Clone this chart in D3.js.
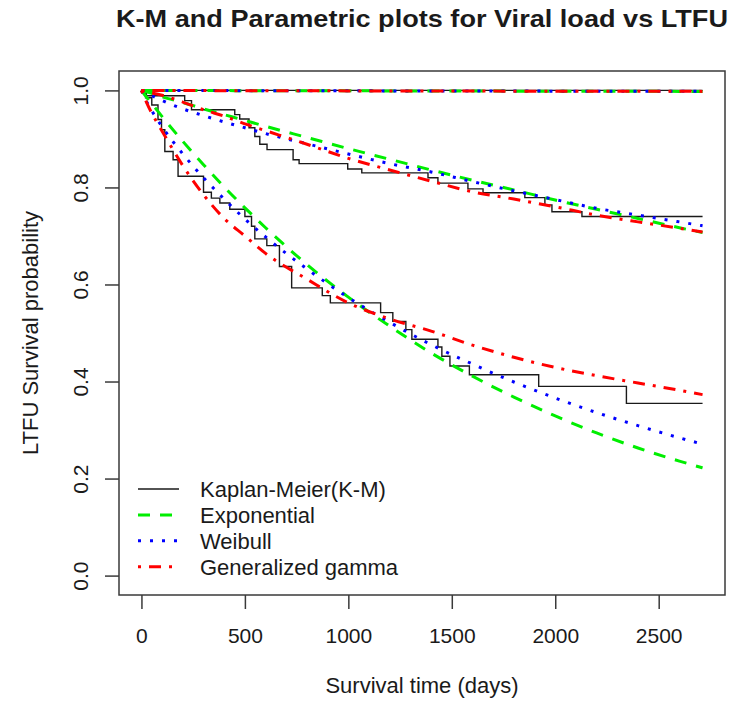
<!DOCTYPE html>
<html>
<head>
<meta charset="utf-8">
<script src="https://cdn.jsdelivr.net/npm/d3@7"></script>
<style>
  body { margin: 0; background: #fff; }
  text { font-family: "Liberation Sans", Arial, sans-serif; fill: #1a1a1a; }
</style>
</head>
<body>
<svg id="chart" width="745" height="708"></svg>
<script>
// tick labels
var xTicks = [0, 500, 1000, 1500, 2000, 2500];
var yTicks = [0, 0.2, 0.4, 0.6, 0.8, 1.0];

// Kaplan-Meier step curves (time in days, survival)
var kmTopTime = [0, 2712];
var kmTopSurv = [1, 1];
var kmMidTime = [0, 24, 209, 242, 451, 475, 520, 548, 572, 607, 733, 762, 997, 1065, 1385, 1433, 1578, 1651, 1853, 1950, 1984, 2129, 2712];
var kmMidSurv = [1, 0.989, 0.979, 0.96, 0.95, 0.941, 0.923, 0.905, 0.889, 0.878, 0.857, 0.849, 0.838, 0.83, 0.82, 0.809, 0.797, 0.789, 0.779, 0.764, 0.75, 0.74, 0.74];
var kmLowTime = [0, 20, 50, 80, 97, 113, 153, 177, 300, 338, 379, 427, 500, 532, 548, 606, 667, 726, 874, 913, 1156, 1215, 1278, 1307, 1433, 1452, 1491, 1585, 1920, 2344, 2712];
var kmLowSurv = [1, 0.985, 0.97, 0.94, 0.919, 0.874, 0.857, 0.823, 0.79, 0.778, 0.768, 0.755, 0.74, 0.72, 0.694, 0.68, 0.637, 0.593, 0.577, 0.562, 0.542, 0.524, 0.507, 0.487, 0.471, 0.452, 0.432, 0.414, 0.39, 0.355, 0.355];

// parametric fits, read at these times
var fitTime = [0, 25, 50, 100, 200, 300, 400, 500, 600, 800, 1000, 1200, 1400, 1600, 1800, 2000, 2200, 2400, 2600, 2712];
var expTop = [1, 1, 1, 0.9999, 0.9998, 0.9997, 0.9996, 0.9995, 0.9994, 0.9993, 0.9991, 0.999, 0.9988, 0.9987, 0.9985, 0.9984, 0.9982, 0.9981, 0.998, 0.9979];
var weiTop = [1, 1, 0.9999, 0.9999, 0.9998, 0.9997, 0.9996, 0.9995, 0.9994, 0.9993, 0.9992, 0.999, 0.9989, 0.9988, 0.9986, 0.9985, 0.9984, 0.9983, 0.9982, 0.9981];
var ggTop = [1, 1, 0.9999, 0.9998, 0.9997, 0.9996, 0.9995, 0.9994, 0.9993, 0.9992, 0.999, 0.9989, 0.9988, 0.9986, 0.9985, 0.9984, 0.9983, 0.9982, 0.9981, 0.998];
var expMid = [1, 0.997, 0.994, 0.987, 0.975, 0.962, 0.95, 0.938, 0.926, 0.903, 0.88, 0.858, 0.836, 0.815, 0.795, 0.774, 0.755, 0.736, 0.717, 0.707];
var weiMid = [1, 0.994, 0.989, 0.979, 0.962, 0.948, 0.935, 0.923, 0.911, 0.89, 0.869, 0.849, 0.832, 0.812, 0.793, 0.775, 0.757, 0.743, 0.729, 0.721];
var ggMid = [1, 0.998, 0.995, 0.99, 0.976, 0.96, 0.947, 0.931, 0.917, 0.889, 0.86, 0.836, 0.813, 0.791, 0.776, 0.76, 0.743, 0.729, 0.716, 0.708];
var expLow = [1, 0.986, 0.973, 0.946, 0.895, 0.847, 0.801, 0.758, 0.717, 0.641, 0.574, 0.514, 0.459, 0.411, 0.368, 0.329, 0.294, 0.263, 0.236, 0.222];
var weiLow = [1, 0.977, 0.958, 0.925, 0.869, 0.82, 0.776, 0.735, 0.698, 0.632, 0.573, 0.522, 0.476, 0.436, 0.399, 0.366, 0.336, 0.309, 0.284, 0.271];
var ggLow = [1, 0.975, 0.953, 0.916, 0.845, 0.785, 0.736, 0.7, 0.664, 0.611, 0.562, 0.529, 0.504, 0.475, 0.45, 0.429, 0.412, 0.397, 0.382, 0.373];

var legendLabels = ["Kaplan-Meier(K-M)", "Exponential", "Weibull", "Generalized gamma"];
var lineColors = ["#1a1a1a", "#00ee00", "#0000ff", "#ff0000"];
var lineDashes = [null, "12,10", "3,9", "3,8,12,8"];
var lineWidths = [1.4, 3, 3, 3];

var svg = d3.select("#chart");
var plotLeft = 119, plotRight = 725, plotTop = 71, plotBottom = 595;

// R style: axis range padded 4% each side
var xr = 2712 * 0.04;
var x = d3.scaleLinear().domain([-xr, 2712 + xr]).range([plotLeft, plotRight]);
var y = d3.scaleLinear().domain([-0.04, 1.04]).range([plotBottom, plotTop]);

function pairs(t, s) {
    return t.map(function(d, i) { return [d, s[i]]; });
}

var stepLine = d3.line()
    .x(function(d) { return x(d[0]); })
    .y(function(d) { return y(d[1]); })
    .curve(d3.curveStepAfter);
var smoothLine = d3.line()
    .x(function(d) { return x(d[0]); })
    .y(function(d) { return y(d[1]); })
    .curve(d3.curveMonotoneX);

var curves = [
    {kind: 0, pts: pairs(kmTopTime, kmTopSurv)},
    {kind: 0, pts: pairs(kmMidTime, kmMidSurv)},
    {kind: 0, pts: pairs(kmLowTime, kmLowSurv)},
    {kind: 1, pts: pairs(fitTime, expTop)},
    {kind: 1, pts: pairs(fitTime, expMid)},
    {kind: 1, pts: pairs(fitTime, expLow)},
    {kind: 2, pts: pairs(fitTime, weiTop)},
    {kind: 2, pts: pairs(fitTime, weiMid)},
    {kind: 2, pts: pairs(fitTime, weiLow)},
    {kind: 3, pts: pairs(fitTime, ggTop)},
    {kind: 3, pts: pairs(fitTime, ggMid)},
    {kind: 3, pts: pairs(fitTime, ggLow)}
];

svg.selectAll("path.curve")
    .data(curves)
    .enter()
    .append("path")
    .attr("class", "curve")
    .attr("d", function(d) { return d.kind == 0 ? stepLine(d.pts) : smoothLine(d.pts); })
    .attr("fill", "none")
    .attr("stroke", function(d) { return lineColors[d.kind]; })
    .attr("stroke-width", function(d) { return lineWidths[d.kind]; })
    .attr("stroke-dasharray", function(d) { return lineDashes[d.kind]; });

// box
svg.append("rect")
    .attr("x", plotLeft).attr("y", plotTop)
    .attr("width", plotRight - plotLeft).attr("height", plotBottom - plotTop)
    .attr("fill", "none")
    .attr("stroke", "#3a3a3a")
    .attr("stroke-width", 1.5);

// x axis
var xAxis = svg.append("g")
    .attr("transform", "translate(0," + plotBottom + ")")
    .call(d3.axisBottom(x).tickValues(xTicks).tickSize(14).tickFormat(d3.format("d")));
xAxis.select(".domain").remove();
xAxis.selectAll("line").attr("stroke", "#3a3a3a").attr("stroke-width", 1.5);
xAxis.selectAll("text")
    .attr("y", 48).attr("dy", null)
    .style("font-size", "21px")
    .style("font-family", "'Liberation Sans', Arial, sans-serif")
    .attr("fill", "#1a1a1a");

// y axis
var yAxis = svg.append("g")
    .attr("transform", "translate(" + plotLeft + ",0)")
    .call(d3.axisLeft(y).tickValues(yTicks).tickSize(14).tickFormat(d3.format(".1f")));
yAxis.select(".domain").remove();
yAxis.selectAll("line").attr("stroke", "#3a3a3a").attr("stroke-width", 1.5);
yAxis.selectAll("text")
    .attr("x", null).attr("dy", null)
    .attr("text-anchor", "middle")
    .attr("transform", "translate(-31,0) rotate(-90)")
    .style("font-size", "21px")
    .style("font-family", "'Liberation Sans', Arial, sans-serif")
    .attr("fill", "#1a1a1a");

// titles
svg.append("text")
    .attr("x", (plotLeft + plotRight) / 2).attr("y", 27)
    .attr("text-anchor", "middle")
    .attr("textLength", 612)
    .attr("lengthAdjust", "spacingAndGlyphs")
    .style("font-size", "24px").style("font-weight", "bold")
    .text("K-M and Parametric plots for Viral load vs LTFU");
svg.append("text")
    .attr("x", (plotLeft + plotRight) / 2).attr("y", 693)
    .attr("text-anchor", "middle")
    .style("font-size", "22px")
    .text("Survival time (days)");
svg.append("text")
    .attr("transform", "translate(38," + (plotTop + plotBottom) / 2 + ") rotate(-90)")
    .attr("text-anchor", "middle")
    .style("font-size", "22px")
    .text("LTFU Survival probability");

// legend
var legend = svg.selectAll("g.legend")
    .data(legendLabels)
    .enter()
    .append("g")
    .attr("class", "legend")
    .attr("transform", function(d, i) { return "translate(138," + (489 + i * 25.9) + ")"; });
legend.append("line")
    .attr("x1", 0).attr("x2", 41)
    .attr("stroke", function(d, i) { return lineColors[i]; })
    .attr("stroke-width", function(d, i) { return lineWidths[i]; })
    .attr("stroke-dasharray", function(d, i) { return lineDashes[i]; });
legend.append("text")
    .attr("x", 62).attr("y", 8)
    .style("font-size", "22px")
    .text(function(d) { return d; });
</script>
</body>
</html>
